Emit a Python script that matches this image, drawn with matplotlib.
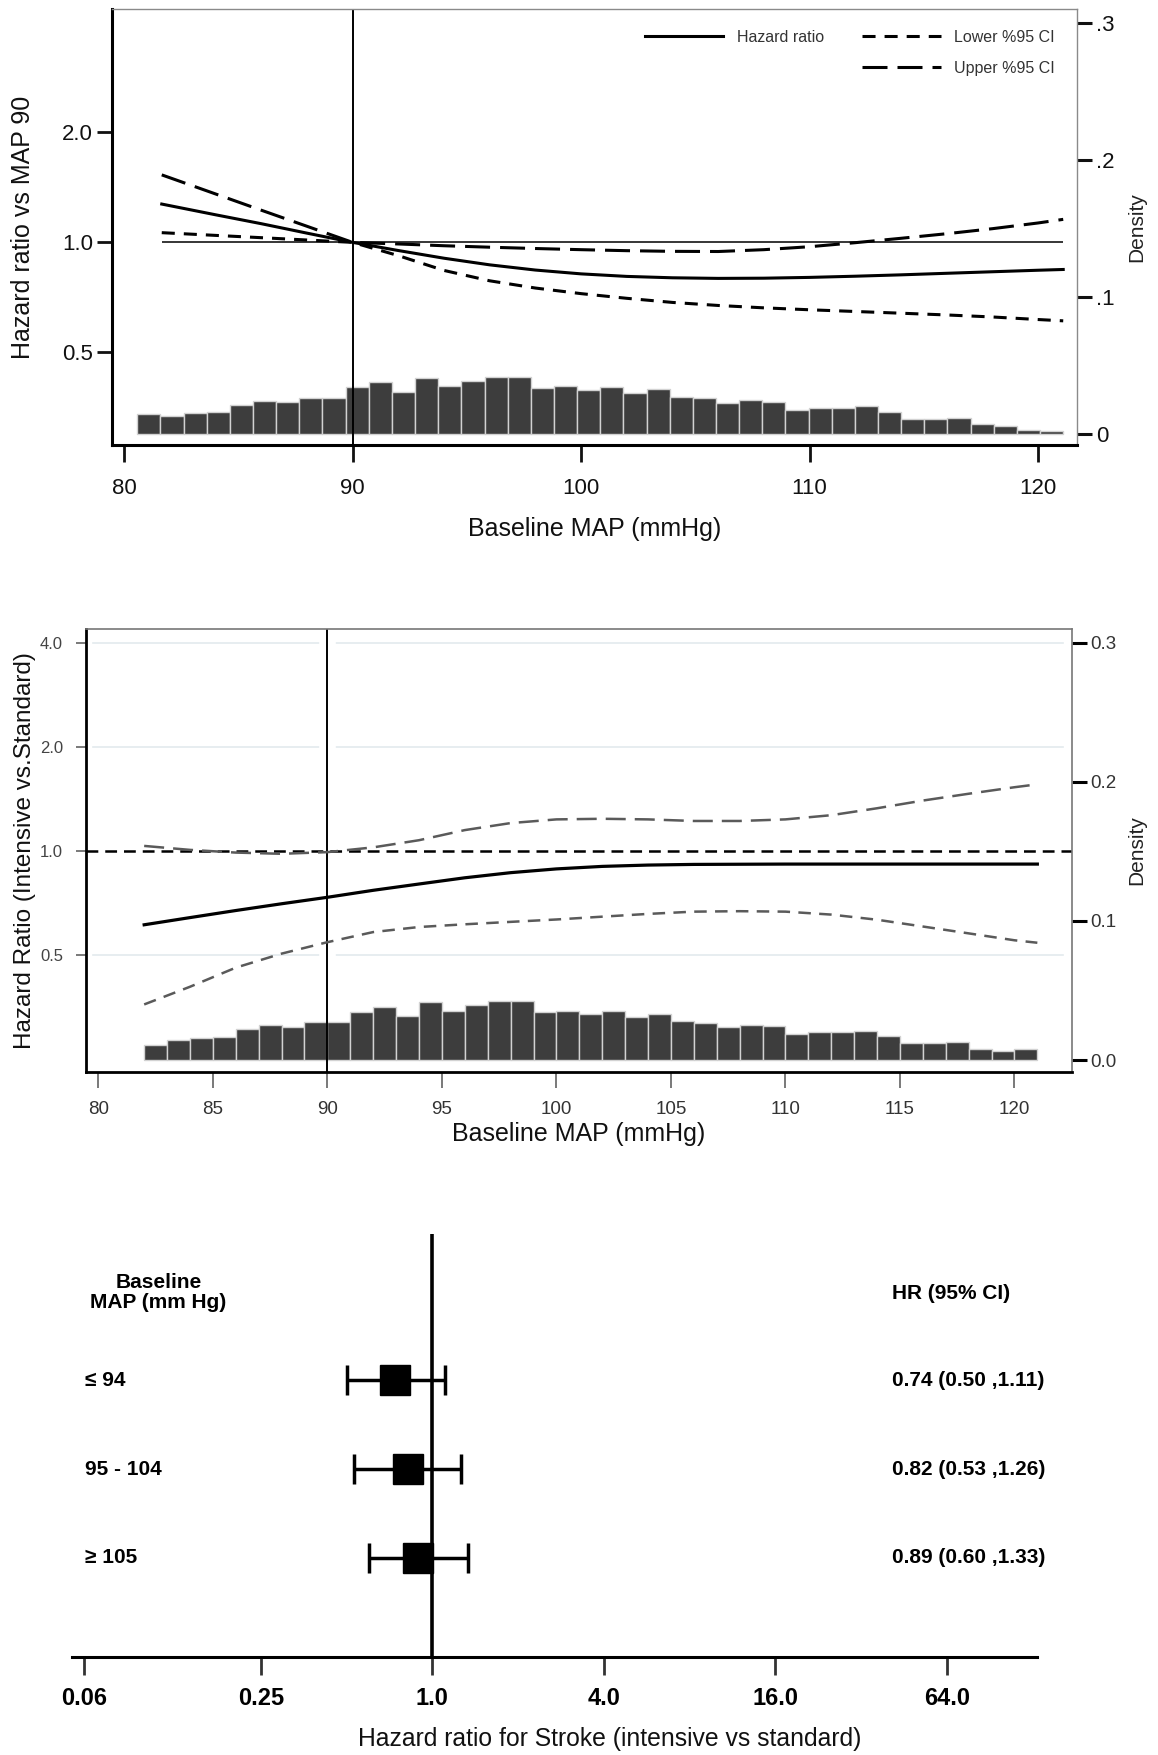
import numpy as np
import matplotlib
matplotlib.use('Agg')
import matplotlib.pyplot as plt
from matplotlib.lines import Line2D
from matplotlib.ticker import FixedLocator, NullLocator, FixedFormatter
from matplotlib.transforms import blended_transform_factory

plt.rcParams['font.family'] = ['Liberation Sans', 'DejaVu Sans']
plt.rcParams['lines.scale_dashes'] = False

# ---------------- Panel 1 data ----------------
P1_MAP = [81.65, 84, 86, 88, 90, 92, 94, 96, 98, 100, 102, 104, 106, 108, 110, 112, 114, 116, 118, 120, 121.1]
P1_HR = [1.273, 1.19, 1.125, 1.06, 1.0, 0.95, 0.905, 0.868, 0.84, 0.82, 0.807, 0.80, 0.797, 0.798, 0.802,
         0.808, 0.815, 0.823, 0.831, 0.839, 0.843]
P1_LOWER = [1.063, 1.045, 1.03, 1.015, 1.0, 0.92, 0.838, 0.785, 0.75, 0.724, 0.703, 0.685, 0.672, 0.662, 0.654,
            0.647, 0.64, 0.633, 0.625, 0.615, 0.61]
P1_UPPER = [1.53, 1.357, 1.225, 1.107, 1.0, 0.99, 0.979, 0.97, 0.962, 0.955, 0.949, 0.945, 0.944, 0.955, 0.973,
            0.998, 1.026, 1.056, 1.09, 1.13, 1.156]
P1_HIST_START = 80.58
P1_HIST_WIDTH = 1.013
P1_DENSITY = [0.0150, 0.0132, 0.0155, 0.0163, 0.0216, 0.0244, 0.0234, 0.0266, 0.0266, 0.0344,
              0.0378, 0.0308, 0.0411, 0.0351, 0.0390, 0.0420, 0.0420, 0.0340, 0.0350, 0.0325,
              0.0345, 0.0300, 0.0330, 0.0275, 0.0263, 0.0228, 0.0250, 0.0233, 0.0180, 0.0193,
              0.0190, 0.0205, 0.0162, 0.0114, 0.0114, 0.0120, 0.0072, 0.0058, 0.0030, 0.0022]
P1_XTICKS = [80, 90, 100, 110, 120]
P1_YTICKS = [0.5, 1.0, 2.0]
P1_YTICKLABELS = ['0.5', '1.0', '2.0']
P1_DTICKS = [0, 0.1, 0.2, 0.3]
P1_DTICKLABELS = ['0', '.1', '.2', '.3']
REF_MAP = 90

# ---------------- Panel 2 data ----------------
P2_MAP = [82, 84, 86, 88, 90, 92, 94, 96, 98, 100, 102, 104, 106, 108, 110, 112, 114, 116, 118, 120, 121]
P2_HR = [0.612, 0.642, 0.673, 0.704, 0.735, 0.77, 0.803, 0.837, 0.866, 0.888, 0.903, 0.911, 0.915, 0.916,
         0.917, 0.917, 0.917, 0.917, 0.917, 0.917, 0.917]
P2_LOWER = [0.36, 0.405, 0.46, 0.505, 0.545, 0.583, 0.603, 0.614, 0.624, 0.634, 0.646, 0.658, 0.668, 0.670,
            0.668, 0.655, 0.633, 0.605, 0.578, 0.552, 0.543]
P2_UPPER = [1.035, 1.008, 0.99, 0.982, 0.993, 1.025, 1.075, 1.15, 1.205, 1.235, 1.24, 1.235, 1.222, 1.222,
            1.235, 1.27, 1.33, 1.40, 1.465, 1.53, 1.56]
P2_HIST_START = 82
P2_HIST_WIDTH = 1.0
P2_DENSITY = [0.0108, 0.0144, 0.0161, 0.0168, 0.0221, 0.0252, 0.0240, 0.0271, 0.0271, 0.0348,
              0.0384, 0.0316, 0.0419, 0.0355, 0.0398, 0.0424, 0.0424, 0.0342, 0.0355, 0.0330,
              0.0350, 0.0308, 0.0330, 0.0283, 0.0265, 0.0236, 0.0255, 0.0245, 0.0186, 0.0200,
              0.0198, 0.0208, 0.0175, 0.0121, 0.0124, 0.0128, 0.0082, 0.0066, 0.0077]
P2_XTICKS = [80, 85, 90, 95, 100, 105, 110, 115, 120]
P2_YTICKS = [0.5, 1.0, 2.0, 4.0]
P2_YTICKLABELS = ['0.5', '1.0', '2.0', '4.0']
P2_GRID = [0.5, 2.0, 4.0]
P2_DTICKS = [0.0, 0.1, 0.2, 0.3]
P2_DTICKLABELS = ['0.0', '0.1', '0.2', '0.3']

# ---------------- Panel 3 data ----------------
GROUPS = ['≤ 94', '95 - 104', '≥ 105']
GROUP_HR = [0.74, 0.82, 0.89]
GROUP_LO = [0.50, 0.53, 0.60]
GROUP_HI = [1.11, 1.26, 1.33]
P3_XTICKS = [0.06, 0.25, 1.0, 4.0, 16.0, 64.0]
P3_XTICKLABELS = ['0.06', '0.25', '1.0', '4.0', '16.0', '64.0']

W, H = 1158, 1755
fig = plt.figure(figsize=(W / 100, H / 100), dpi=100)


def rect(l, t, r, b):
    return [l / W, 1 - b / H, (r - l) / W, (b - t) / H]


BAR_FACE = '#3d3d3d'
BAR_EDGE = '#d2d2d2'

# ================= Panel 1 =================
ax1 = fig.add_axes(rect(111.7, 9, 1076.7, 445))
tw1 = ax1.twinx()
ax1.set_zorder(tw1.get_zorder() + 1)
ax1.patch.set_visible(False)

ax1.set_xlim(79.46, 121.69)
ax1.set_yscale('log')
ax1.set_ylim(0.279, 4.35)
tw1.set_ylim(-0.0078, 0.31)

edges1 = P1_HIST_START + np.arange(len(P1_DENSITY)) * P1_HIST_WIDTH
tw1.bar(edges1, P1_DENSITY, width=P1_HIST_WIDTH, align='edge', color=BAR_FACE,
        edgecolor=BAR_EDGE, linewidth=1.0)

ax1.axvline(REF_MAP, color='black', lw=1.4, zorder=2)
ax1.hlines(1.0, P1_MAP[0], P1_MAP[-1], color='black', lw=1.1, zorder=2)
hr1, = ax1.plot(P1_MAP, P1_HR, color='black', lw=2.2, zorder=3)
lo1, = ax1.plot(P1_MAP, P1_LOWER, color='black', lw=2.2, dashes=(9.4, 6.5), zorder=3)
up1, = ax1.plot(P1_MAP, P1_UPPER, color='black', lw=2.2, dashes=(18, 7.2), zorder=3)

dummy = Line2D([], [], linestyle='none')
leg = ax1.legend([hr1, dummy, lo1, up1], ['Hazard ratio', '', 'Lower %95 CI', 'Upper %95 CI'],
                 ncol=2, loc='upper right', bbox_to_anchor=(1055 / W, 1 - 30 / H),
                 bbox_transform=fig.transFigure, frameon=False, borderpad=0, borderaxespad=0,
                 fontsize=11.5, handlelength=4.9, handletextpad=0.85, columnspacing=2.4,
                 labelspacing=1.0)
for t in leg.get_texts():
    t.set_color('#333333')

for s in ['left', 'bottom']:
    ax1.spines[s].set_linewidth(2.2)
    ax1.spines[s].set_color('black')
for s in ['top', 'right']:
    ax1.spines[s].set_linewidth(1.0)
    ax1.spines[s].set_color('#8a8a8a')
for s in tw1.spines.values():
    s.set_visible(False)

ax1.xaxis.set_major_locator(FixedLocator(P1_XTICKS))
ax1.xaxis.set_major_formatter(FixedFormatter([str(t) for t in P1_XTICKS]))
ax1.yaxis.set_major_locator(FixedLocator(P1_YTICKS))
ax1.yaxis.set_major_formatter(FixedFormatter(P1_YTICKLABELS))
ax1.yaxis.set_minor_locator(NullLocator())
ax1.tick_params(axis='x', length=12.2, width=2, pad=11.5, labelsize=16, colors='#111111')
ax1.tick_params(axis='y', length=10.8, width=2, pad=2.5, labelsize=16, colors='#111111')
tw1.yaxis.set_major_locator(FixedLocator(P1_DTICKS))
tw1.yaxis.set_major_formatter(FixedFormatter(P1_DTICKLABELS))
tw1.tick_params(axis='y', length=11, width=2.2, pad=2.7, labelsize=16, colors='#111111')

ax1.set_xlabel('Baseline MAP (mmHg)', fontsize=18, color='#111111')
ax1.xaxis.set_label_coords(0.5, -0.165)
ax1.set_ylabel('Hazard ratio vs MAP 90', fontsize=18, color='#111111')
ax1.yaxis.set_label_coords(-0.0795, 0.5)
tw1.set_ylabel('Density', fontsize=15, color='#222222')
tw1.yaxis.set_label_coords(1.052, 0.5)

# ================= Panel 2 =================
ax2 = fig.add_axes(rect(86, 629, 1071.7, 1071.7))
tw2 = ax2.twinx()
ax2.set_zorder(tw2.get_zorder() + 1)
ax2.patch.set_visible(False)

ax2.set_xlim(79.46, 122.5)
ax2.set_yscale('log')
ax2.set_ylim(0.23, 4.39)
tw2.set_ylim(-0.0084, 0.310)

edges2 = P2_HIST_START + np.arange(len(P2_DENSITY)) * P2_HIST_WIDTH
tw2.bar(edges2, P2_DENSITY, width=P2_HIST_WIDTH, align='edge', color=BAR_FACE,
        edgecolor=BAR_EDGE, linewidth=1.0)

for v in P2_GRID:
    ax2.axhline(v, xmin=0.007, xmax=0.991, color='#e3eaed', lw=1.2, zorder=0.5)
ax2.axvline(REF_MAP, ymin=0.2, ymax=1.0, color='white', lw=12, zorder=0.8)
ax2.axvline(REF_MAP, color='black', lw=1.4, zorder=2)
ax2.axhline(1.0, color='black', lw=1.8, dashes=(8.5, 5), zorder=2.5)
ax2.plot(P2_MAP, P2_UPPER, color='#5a5a5a', lw=1.8, dashes=(14.4, 6.5), zorder=3)
ax2.plot(P2_MAP, P2_LOWER, color='#5a5a5a', lw=1.8, dashes=(9, 6), zorder=3)
ax2.plot(P2_MAP, P2_HR, color='black', lw=2.3, zorder=3.5)

for s in ['left', 'bottom']:
    ax2.spines[s].set_linewidth(2.0)
    ax2.spines[s].set_color('black')
for s in ['top', 'right']:
    ax2.spines[s].set_linewidth(1.2)
    ax2.spines[s].set_color('#777777')
for s in tw2.spines.values():
    s.set_visible(False)

ax2.xaxis.set_major_locator(FixedLocator(P2_XTICKS))
ax2.xaxis.set_major_formatter(FixedFormatter([str(t) for t in P2_XTICKS]))
ax2.yaxis.set_major_locator(FixedLocator(P2_YTICKS))
ax2.yaxis.set_major_formatter(FixedFormatter(P2_YTICKLABELS))
ax2.yaxis.set_minor_locator(NullLocator())
ax2.tick_params(axis='x', length=11.5, width=1.1, color='#555555', pad=9.5, labelsize=13.5,
                labelcolor='#333333')
ax2.tick_params(axis='y', length=7, width=1.1, color='#555555', pad=9.5, labelsize=12,
                labelcolor='#444444')
tw2.yaxis.set_major_locator(FixedLocator(P2_DTICKS))
tw2.yaxis.set_major_formatter(FixedFormatter(P2_DTICKLABELS))
tw2.tick_params(axis='y', length=11, width=2.2, pad=2.2, labelsize=13.5, labelcolor='#333333')

ax2.set_xlabel('Baseline MAP (mmHg)', fontsize=18, color='#111111')
ax2.xaxis.set_label_coords(0.5, -0.1145)
ax2.set_ylabel('Hazard Ratio (Intensive vs.Standard)', fontsize=17.5, color='#111111')
ax2.yaxis.set_label_coords(-0.0507, 0.5)
tw2.set_ylabel('Density', fontsize=15, color='#222222')
tw2.yaxis.set_label_coords(1.056, 0.5)

# ================= Panel 3 (forest) =================
ax3 = fig.add_axes(rect(71.7, 1234.3, 1036.7, 1657.4))
ax3.set_xscale('log', base=2)
ax3.set_xlim(0.0543, 132)
ax3.set_ylim(-0.123, 4.648)

ypos = np.arange(len(GROUPS), 0, -1)
hr = np.array(GROUP_HR)
lo = np.array(GROUP_LO)
hi = np.array(GROUP_HI)

ax3.axvline(1.0, color='black', lw=2.6, zorder=1)
ax3.errorbar(hr, ypos, xerr=[hr - lo, hi - hr], fmt='s', color='black', ms=22, lw=2.5,
             capsize=11, capthick=2.5, zorder=3)

bt = blended_transform_factory(ax3.transAxes, ax3.transData)
header_y = len(GROUPS) + 1
ax3.text(0.09, header_y - 0.01, 'Baseline\nMAP (mm Hg)', transform=bt, ha='center', va='center',
         fontsize=15, fontweight='bold', linespacing=1.05)
ax3.text(0.8497, header_y - 0.02, 'HR (95% CI)', transform=bt, ha='left', va='center',
         fontsize=15, fontweight='bold')
for g, y, h, l, u in zip(GROUPS, ypos, hr, lo, hi):
    ax3.text(0.0138, y, g, transform=bt, ha='left', va='center', fontsize=15, fontweight='bold')
    ax3.text(0.8497, y, f"{h:.2f} ({l:.2f} ,{u:.2f})", transform=bt, ha='left', va='center',
             fontsize=15, fontweight='bold')

for s in ['top', 'right', 'left']:
    ax3.spines[s].set_visible(False)
ax3.spines['bottom'].set_linewidth(2.2)
ax3.spines['bottom'].set_color('black')
ax3.set_yticks([])
ax3.xaxis.set_major_locator(FixedLocator(P3_XTICKS))
ax3.xaxis.set_major_formatter(FixedFormatter(P3_XTICKLABELS))
ax3.xaxis.set_minor_locator(NullLocator())
ax3.tick_params(axis='x', length=13, width=2, color='#333333', pad=8.3, labelsize=17)
for lbl in ax3.get_xticklabels():
    lbl.set_fontweight('bold')
ax3.set_xlabel('Hazard ratio for Stroke (intensive vs standard)', fontsize=17.8, color='#111111')
ax3.xaxis.set_label_coords(0.558, -0.164)

fig.savefig('out.png', dpi=100, facecolor='white')
